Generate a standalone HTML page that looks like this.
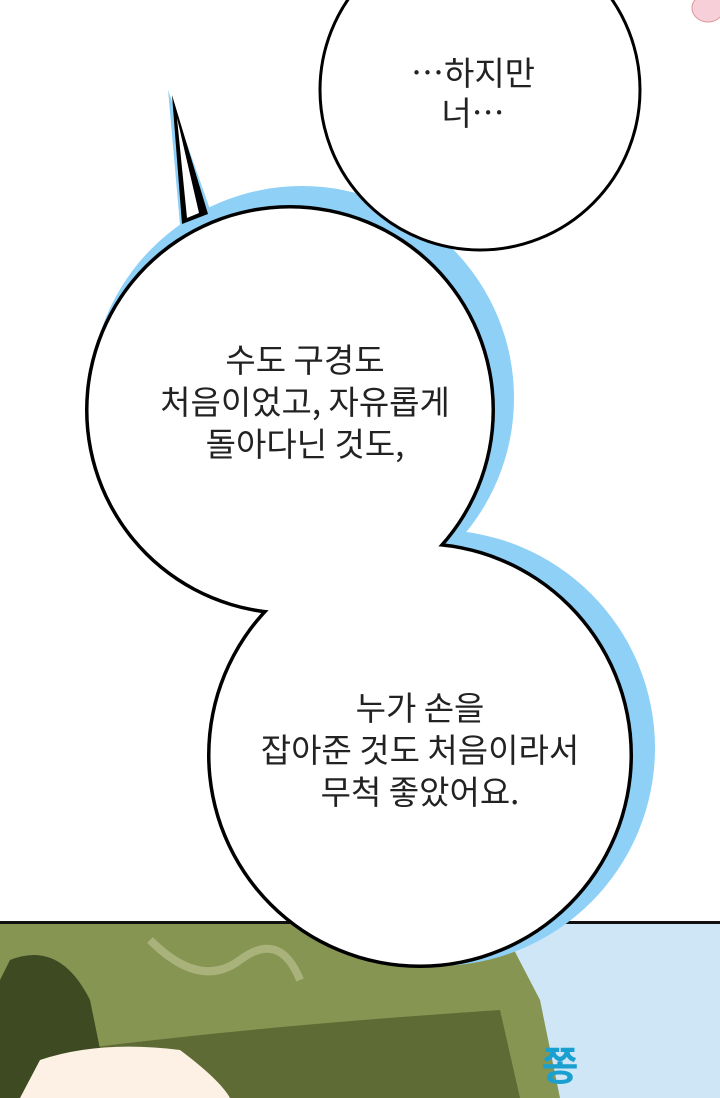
<!DOCTYPE html>
<html><head><meta charset="utf-8"><style>
html,body{margin:0;padding:0;width:720px;height:1098px;overflow:hidden;background:#fff}
svg{display:block}
text{font-family:"Noto Sans CJK KR","Liberation Sans",sans-serif;font-size:33px;fill:#222;text-anchor:middle}
</style></head><body>
<svg width="720" height="1098" viewBox="0 0 720 1098">
<!-- bottom panel -->
<rect x="0" y="923" width="720" height="175" fill="#8c9a55"/>
<polygon points="500,923 720,923 720,1098 530,1098" fill="#cfe6f7"/>
<path d="M0,923 L500,923 L540,1000 L560,1098 L0,1098Z" fill="#869552"/>
<path d="M0,1060 Q200,1030 500,1010 L520,1098 L0,1098Z" fill="#5e6b35"/>
<path d="M10,960 Q60,940 90,1000 L110,1098 L0,1098 L0,980Z" fill="#3d4a22"/>
<path d="M40,1060 Q100,1040 180,1050 Q220,1080 230,1098 L20,1098Z" fill="#fdf1e6"/>
<path d="M150,940 Q200,990 240,960 T300,980" stroke="#a8b27a" stroke-width="8" fill="none"/>
<rect x="0" y="921" width="720" height="3" fill="#111"/>
<text x="560" y="1080" style="font-size:40px;fill:#1aa0d0;font-weight:bold">쫑</text>
<!-- blue shadow -->
<circle cx="302" cy="398" r="212" fill="#8fd0f7"/>
<circle cx="437" cy="748" r="218" fill="#8fd0f7"/>
<polygon points="168,90 180,225 212,215" fill="#8fd0f7"/>
<!-- pink blob -->
<ellipse cx="708" cy="8" rx="16" ry="14" fill="#f6cfd8" stroke="#d99" stroke-width="1"/>
<!-- top circle -->
<circle cx="480" cy="90" r="160" fill="#fff" stroke="#000" stroke-width="3"/>
<!-- main bubble -->
<g>
<circle cx="290" cy="410" r="205" fill="#000"/>
<circle cx="420" cy="755" r="213" fill="#000"/>
<polygon points="172,95 182,224 208,214" fill="#000"/>
<circle cx="290" cy="410" r="201.5" fill="#fff"/>
<circle cx="420" cy="755" r="209.5" fill="#fff"/>
<polygon points="177,118 187,218 199,213" fill="#fff"/>
</g>
<text x="473" y="85">…하지만</text>
<text x="473" y="125">너…</text>
<text x="305" y="372">수도 구경도</text>
<text x="305" y="414">처음이었고, 자유롭게</text>
<text x="305" y="456">돌아다닌 것도,</text>
<text x="420" y="720">누가 손을</text>
<text x="420" y="762">잡아준 것도 처음이라서</text>
<text x="420" y="804">무척 좋았어요.</text>
</svg>
</body></html>
